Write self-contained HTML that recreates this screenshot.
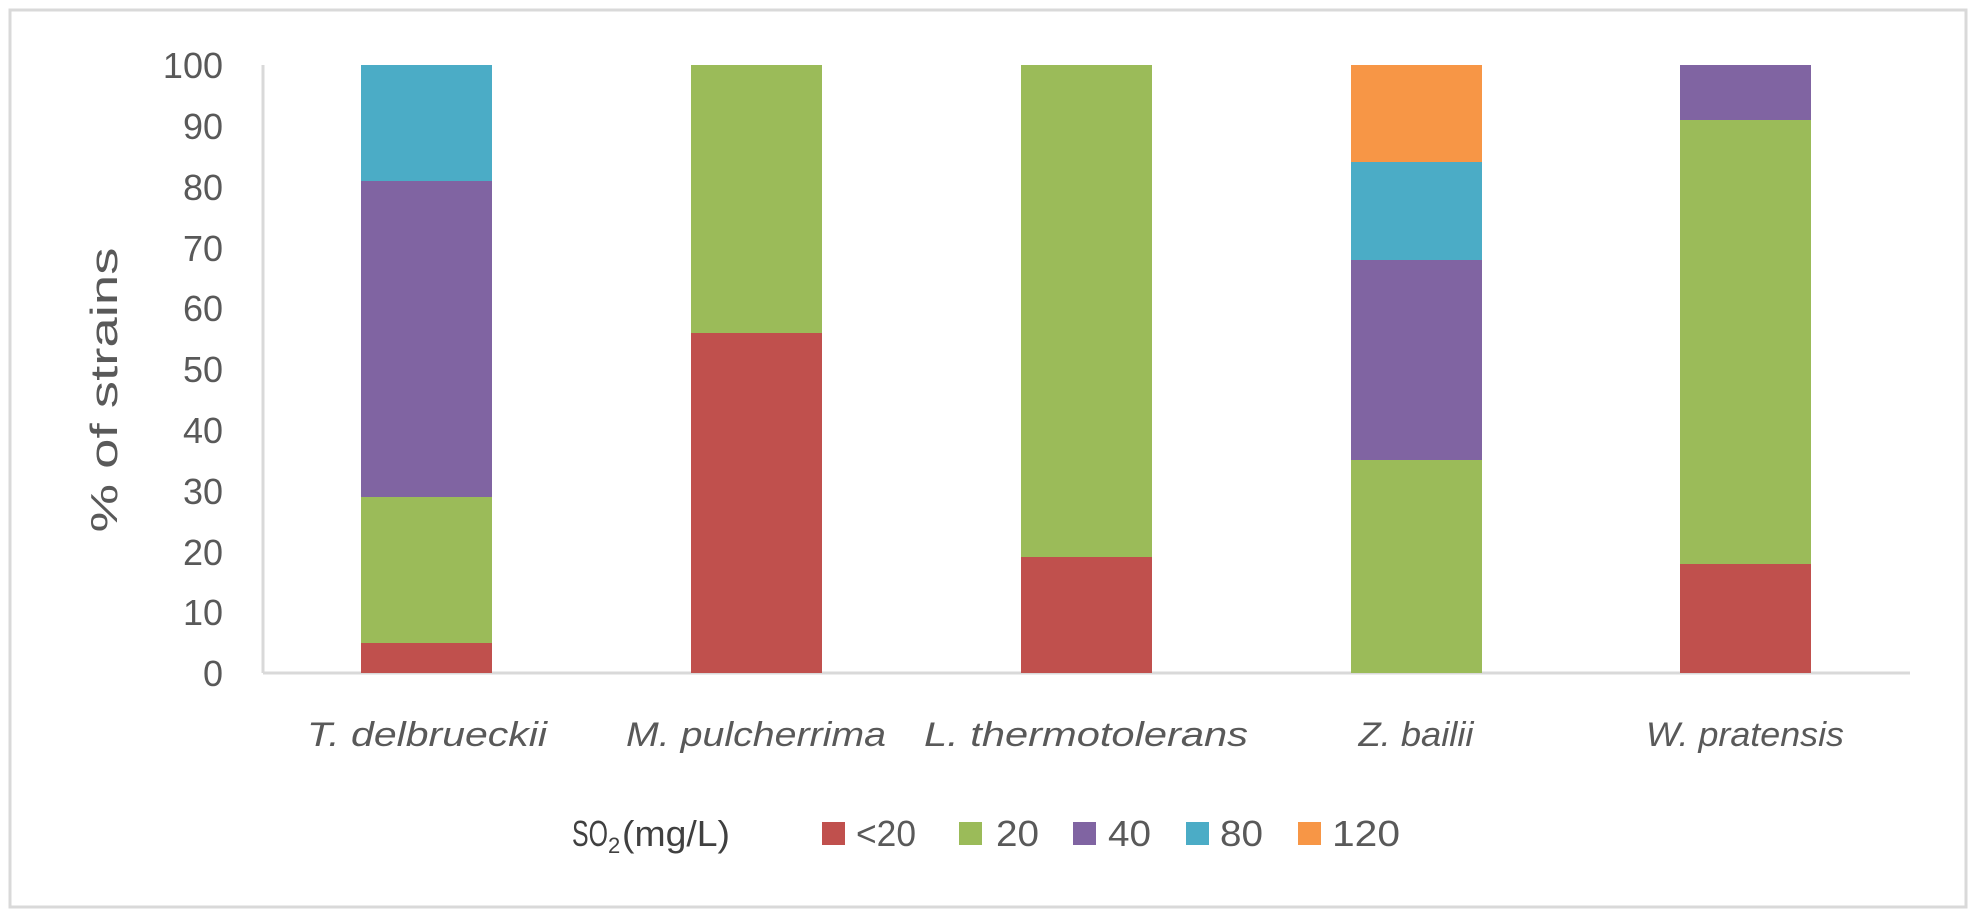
<!DOCTYPE html>
<html><head><meta charset="utf-8"><style>
html,body{margin:0;padding:0;background:#fff;width:1980px;height:920px;overflow:hidden}
</style></head><body>
<svg width="1980" height="920" xmlns="http://www.w3.org/2000/svg" font-family="Liberation Sans, sans-serif" fill="#595959">
<rect x="10" y="10" width="1956" height="897" fill="#fff" stroke="#d9d9d9" stroke-width="3"/>
<line x1="263" y1="65" x2="263" y2="673" stroke="#d9d9d9" stroke-width="3"/>
<line x1="263" y1="673" x2="1910" y2="673" stroke="#d9d9d9" stroke-width="3"/>
<g font-size="36" text-anchor="end">
<text x="223" y="686">0</text><text x="223" y="625">10</text><text x="223" y="565">20</text><text x="223" y="504">30</text><text x="223" y="443">40</text><text x="223" y="382">50</text><text x="223" y="321">60</text><text x="223" y="261">70</text><text x="223" y="200">80</text><text x="223" y="139">90</text><text x="223" y="78">100</text>
</g>
<text transform="translate(117,390) rotate(-90)" font-size="38" text-anchor="middle" textLength="285" lengthAdjust="spacingAndGlyphs">% of strains</text>
<g>
<rect x="361" y="643" width="131" height="30" fill="#c0504d"/>
<rect x="361" y="497" width="131" height="146" fill="#9bbb59"/>
<rect x="361" y="181" width="131" height="316" fill="#8064a2"/>
<rect x="361" y="65" width="131" height="116" fill="#4bacc6"/>

<rect x="691" y="333" width="131" height="340" fill="#c0504d"/>
<rect x="691" y="65" width="131" height="268" fill="#9bbb59"/>

<rect x="1021" y="557" width="131" height="116" fill="#c0504d"/>
<rect x="1021" y="65" width="131" height="492" fill="#9bbb59"/>

<rect x="1351" y="460" width="131" height="213" fill="#9bbb59"/>
<rect x="1351" y="260" width="131" height="200" fill="#8064a2"/>
<rect x="1351" y="162" width="131" height="98" fill="#4bacc6"/>
<rect x="1351" y="65" width="131" height="97" fill="#f79646"/>

<rect x="1680" y="564" width="131" height="109" fill="#c0504d"/>
<rect x="1680" y="120" width="131" height="444" fill="#9bbb59"/>
<rect x="1680" y="65" width="131" height="55" fill="#8064a2"/>
</g>
<g font-size="34" font-style="italic" text-anchor="middle">
<text x="427" y="746" textLength="240" lengthAdjust="spacingAndGlyphs">T. delbrueckii</text>
<text x="756" y="746" textLength="260" lengthAdjust="spacingAndGlyphs">M. pulcherrima</text>
<text x="1086" y="746" textLength="324" lengthAdjust="spacingAndGlyphs">L. thermotolerans</text>
<text x="1416" y="746" textLength="115" lengthAdjust="spacingAndGlyphs">Z. bailii</text>
<text x="1745" y="746" textLength="198" lengthAdjust="spacingAndGlyphs">W. pratensis</text>
</g>
<g font-size="36" fill="#404040">
<text x="572" y="846" textLength="36" lengthAdjust="spacingAndGlyphs">SO</text><text x="608" y="853" font-size="22">2</text><text x="622" y="846" textLength="108" lengthAdjust="spacingAndGlyphs">(mg/L)</text>
</g>
<g font-size="36" fill="#595959">
<rect x="822" y="822" width="23" height="23" fill="#c0504d"/><text x="856" y="846" textLength="60" lengthAdjust="spacingAndGlyphs">&lt;20</text>
<rect x="959" y="822" width="23" height="23" fill="#9bbb59"/><text x="996" y="846" textLength="43" lengthAdjust="spacingAndGlyphs">20</text>
<rect x="1073" y="822" width="23" height="23" fill="#8064a2"/><text x="1108" y="846" textLength="43" lengthAdjust="spacingAndGlyphs">40</text>
<rect x="1186" y="822" width="23" height="23" fill="#4bacc6"/><text x="1220" y="846" textLength="43" lengthAdjust="spacingAndGlyphs">80</text>
<rect x="1298" y="822" width="23" height="23" fill="#f79646"/><text x="1332" y="846" textLength="68" lengthAdjust="spacingAndGlyphs">120</text>
</g>
</svg>
</body></html>
